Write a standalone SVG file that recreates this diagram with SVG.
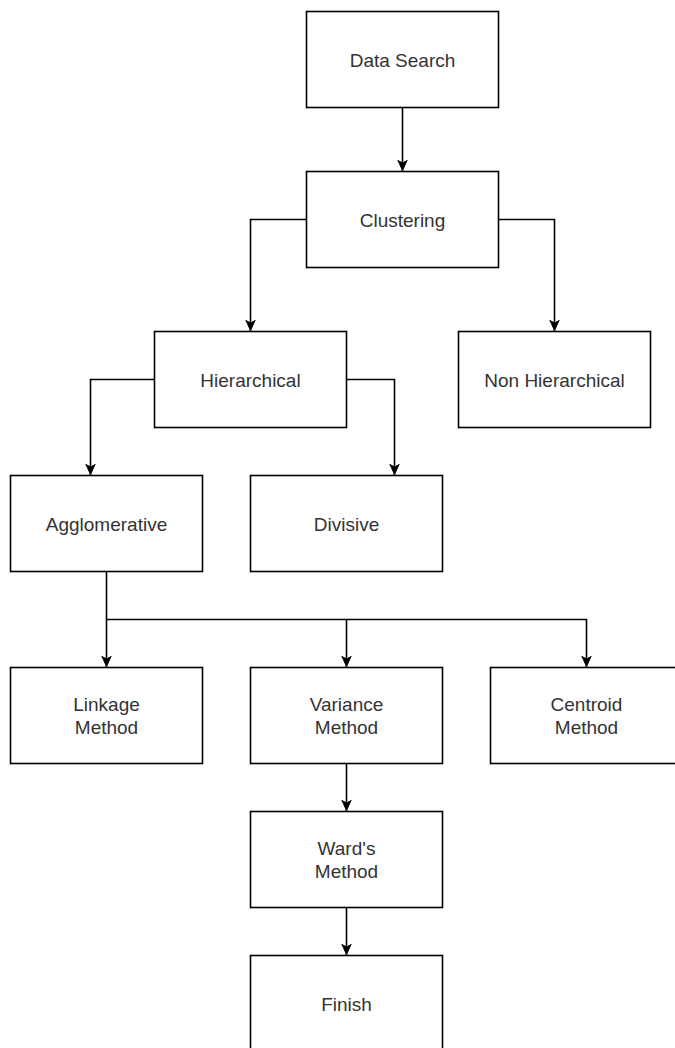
<svg xmlns="http://www.w3.org/2000/svg" width="675" height="1048" viewBox="0 0 675 1048">
<style>
.box{fill:#ffffff;stroke:#000000;stroke-width:1.6}
.lbl{font-family:"Liberation Sans",Arial,Helvetica,sans-serif;font-size:19px;fill:#333333;text-anchor:middle}
.edge{fill:none;stroke:#000000;stroke-width:1.6}
</style>
<defs>
<marker id="arr" viewBox="0 0 12 11" refX="12" refY="5.5" markerWidth="12" markerHeight="11" markerUnits="userSpaceOnUse" orient="auto">
<path d="M0,0 L12,5.5 L0,11 L3,5.5 Z" fill="#000000"/>
</marker>
</defs>
<rect width="675" height="1048" fill="#ffffff"/>
<g id="connectors">
<path class="edge" d="M402.5,107.5 V171.5" marker-end="url(#arr)"/>
<path class="edge" d="M306.5,219.5 H250.5 V331.5" marker-end="url(#arr)"/>
<path class="edge" d="M498.5,219.5 H554.5 V331.5" marker-end="url(#arr)"/>
<path class="edge" d="M154.5,379.5 H90.5 V475.5" marker-end="url(#arr)"/>
<path class="edge" d="M346.5,379.5 H394.5 V475.5" marker-end="url(#arr)"/>
<path class="edge" d="M106.5,571.5 V667.5" marker-end="url(#arr)"/>
<path class="edge" d="M106.5,619.5 H346.5 V667.5" marker-end="url(#arr)"/>
<path class="edge" d="M346.5,619.5 H586.5 V667.5" marker-end="url(#arr)"/>
<path class="edge" d="M346.5,763.5 V811.5" marker-end="url(#arr)"/>
<path class="edge" d="M346.5,907.5 V955.5" marker-end="url(#arr)"/>
</g>
<g id="data-search"><rect class="box" x="306.5" y="11.5" width="192" height="96"/><text class="lbl" x="402.5" y="66.5">Data Search</text></g>
<g id="clustering"><rect class="box" x="306.5" y="171.5" width="192" height="96"/><text class="lbl" x="402.5" y="226.5">Clustering</text></g>
<g id="hierarchical"><rect class="box" x="154.5" y="331.5" width="192" height="96"/><text class="lbl" x="250.5" y="386.5">Hierarchical</text></g>
<g id="non-hierarchical"><rect class="box" x="458.5" y="331.5" width="192" height="96"/><text class="lbl" x="554.5" y="386.5">Non Hierarchical</text></g>
<g id="agglomerative"><rect class="box" x="10.5" y="475.5" width="192" height="96"/><text class="lbl" x="106.5" y="530.5">Agglomerative</text></g>
<g id="divisive"><rect class="box" x="250.5" y="475.5" width="192" height="96"/><text class="lbl" x="346.5" y="530.5">Divisive</text></g>
<g id="linkage"><rect class="box" x="10.5" y="667.5" width="192" height="96"/><text class="lbl" x="106.5" y="711"><tspan x="106.5">Linkage</tspan><tspan x="106.5" dy="23">Method</tspan></text></g>
<g id="variance"><rect class="box" x="250.5" y="667.5" width="192" height="96"/><text class="lbl" x="346.5" y="711"><tspan x="346.5">Variance</tspan><tspan x="346.5" dy="23">Method</tspan></text></g>
<g id="centroid"><rect class="box" x="490.5" y="667.5" width="192" height="96"/><text class="lbl" x="586.5" y="711"><tspan x="586.5">Centroid</tspan><tspan x="586.5" dy="23">Method</tspan></text></g>
<g id="wards"><rect class="box" x="250.5" y="811.5" width="192" height="96"/><text class="lbl" x="346.5" y="855"><tspan x="346.5">Ward's</tspan><tspan x="346.5" dy="23">Method</tspan></text></g>
<g id="finish"><rect class="box" x="250.5" y="955.5" width="192" height="96"/><text class="lbl" x="346.5" y="1010.5">Finish</text></g>
</svg>
